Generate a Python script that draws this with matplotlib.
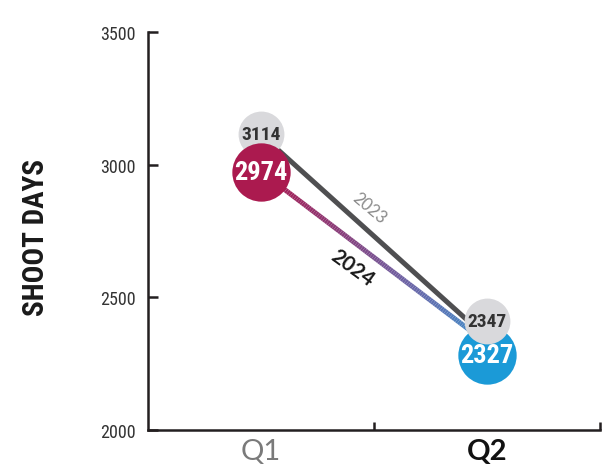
import numpy as np
import matplotlib
matplotlib.use("Agg")
import matplotlib.pyplot as plt
from matplotlib import font_manager
from matplotlib.collections import LineCollection
from matplotlib.colors import LinearSegmentedColormap
from matplotlib.transforms import offset_copy

# --- DATA ---
quarters = ["Q1", "Q2"]
days_2023 = [3114, 2347]
days_2024 = [2974, 2327]
y_ticks = [2000, 2500, 3000, 3500]

# --- STYLE ---
GRAY_LINE = "#4f4f51"
GRAY_DOT = "#d9d9dc"
MAGENTA = "#ab1a4f"
BLUE = "#1b9ad7"
AXIS_COLOR = "#231f20"


def pick_font(candidates):
    installed = {f.name for f in font_manager.fontManager.ttflist}
    for name in candidates:
        if name in installed:
            return name
    return "DejaVu Sans"


NARROW = pick_font(["Roboto Condensed", "Archivo Narrow", "Liberation Sans Narrow", "Roboto", "DejaVu Sans"])
GEO = pick_font(["Lato", "Open Sans", "DejaVu Sans"])

fig = plt.figure(figsize=(6.13, 4.77), dpi=100)
ax = fig.add_axes([0.2414, 0.0964, 0.7374, 0.8344])

x = np.arange(len(quarters))

# 2023 line (dark gray)
ax.plot(x, days_2023, color=GRAY_LINE, lw=3.6, solid_capstyle="butt", zorder=2)

# 2024 line with magenta -> blue gradient (split the straight line into short pieces)
t = np.linspace(0, 1, 120)
gx = x[0] + (x[1] - x[0]) * t
gy = days_2024[0] + (days_2024[1] - days_2024[0]) * t
pts = np.column_stack([gx, gy]).reshape(-1, 1, 2)
segs = np.concatenate([pts[:-1], pts[1:]], axis=1)
cmap = LinearSegmentedColormap.from_list("q", [MAGENTA, "#8a3c78", "#6a66a8", "#3d8fcb"])
lc = LineCollection(segs, colors=cmap(t[:-1]), linewidths=3.6, capstyle="butt", zorder=2)
ax.add_collection(lc)

# circles: Q1 at value, Q2 nudged apart so labels do not collide
up = offset_copy(ax.transData, fig=fig, x=0, y=12, units="points")
down = offset_copy(ax.transData, fig=fig, x=0, y=-8.5, units="points")

ax.plot(x[0], days_2023[0], "o", ms=33, color=GRAY_DOT, mec="none", zorder=3)
ax.plot(x[0], days_2024[0], "o", ms=42, color=MAGENTA, mec="none", zorder=4)
ax.plot(x[1], days_2024[1], "o", ms=42, color=BLUE, mec="none", zorder=3, transform=down)
ax.plot(x[1], days_2023[1], "o", ms=33, color=GRAY_DOT, mec="none", zorder=4, transform=up)

ax.text(x[0], days_2023[0], str(days_2023[0]), ha="center", va="center", fontsize=14,
        fontweight="bold", color="#333333", family=NARROW, zorder=5)
ax.text(x[0], days_2024[0], str(days_2024[0]), ha="center", va="center", fontsize=19,
        fontweight="bold", color="white", family=NARROW, zorder=5)
ax.text(x[1], days_2024[1], str(days_2024[1]), ha="center", va="center", fontsize=19,
        fontweight="bold", color="white", family=NARROW, zorder=5, transform=down)
ax.text(x[1], days_2023[1], str(days_2023[1]), ha="center", va="center", fontsize=14,
        fontweight="bold", color="#333333", family=NARROW, zorder=5, transform=up)

# series labels along the lines
ax.text(0.478, 2837, "2023", rotation=-40, ha="center", va="center", fontsize=12,
        color="#8a8a8a", family=GEO, rotation_mode="anchor", zorder=5)
ax.text(0.403, 2614, "2024", rotation=-36, ha="center", va="center", fontsize=15,
        fontweight="bold", color="#1a1a1a", family=GEO, rotation_mode="anchor", zorder=5)

# --- AXES ---
ax.set_xlim(-0.5, 1.5)
ax.set_ylim(2000, 3500)
ax.set_yticks(y_ticks)
ax.set_yticklabels([str(v) for v in y_ticks], family=NARROW, fontsize=13, color="#333333")
ax.tick_params(axis="y", direction="in", length=7, width=1.8, color=AXIS_COLOR, pad=9)

ax.set_xticks(x)
ax.set_xticklabels(quarters, family=GEO, fontsize=21)
ax.get_xticklabels()[0].set_color("#7a7a7a")
ax.get_xticklabels()[1].set_color("#111111")
ax.get_xticklabels()[1].set_fontweight("bold")
ax.tick_params(axis="x", length=0, pad=6)
ax.set_xticks([0.5, 1.5], minor=True)
ax.tick_params(axis="x", which="minor", direction="in", length=6, width=1.8, color=AXIS_COLOR)

for side in ["top", "right"]:
    ax.spines[side].set_visible(False)
for side in ["left", "bottom"]:
    ax.spines[side].set_linewidth(1.8)
    ax.spines[side].set_color(AXIS_COLOR)

fig.text(0.058, 0.503, "SHOOT DAYS", rotation=90, ha="center", va="center",
         fontsize=21, fontweight="bold", color="#1a1a1a", family=NARROW)

fig.savefig("out.png", dpi=100)
